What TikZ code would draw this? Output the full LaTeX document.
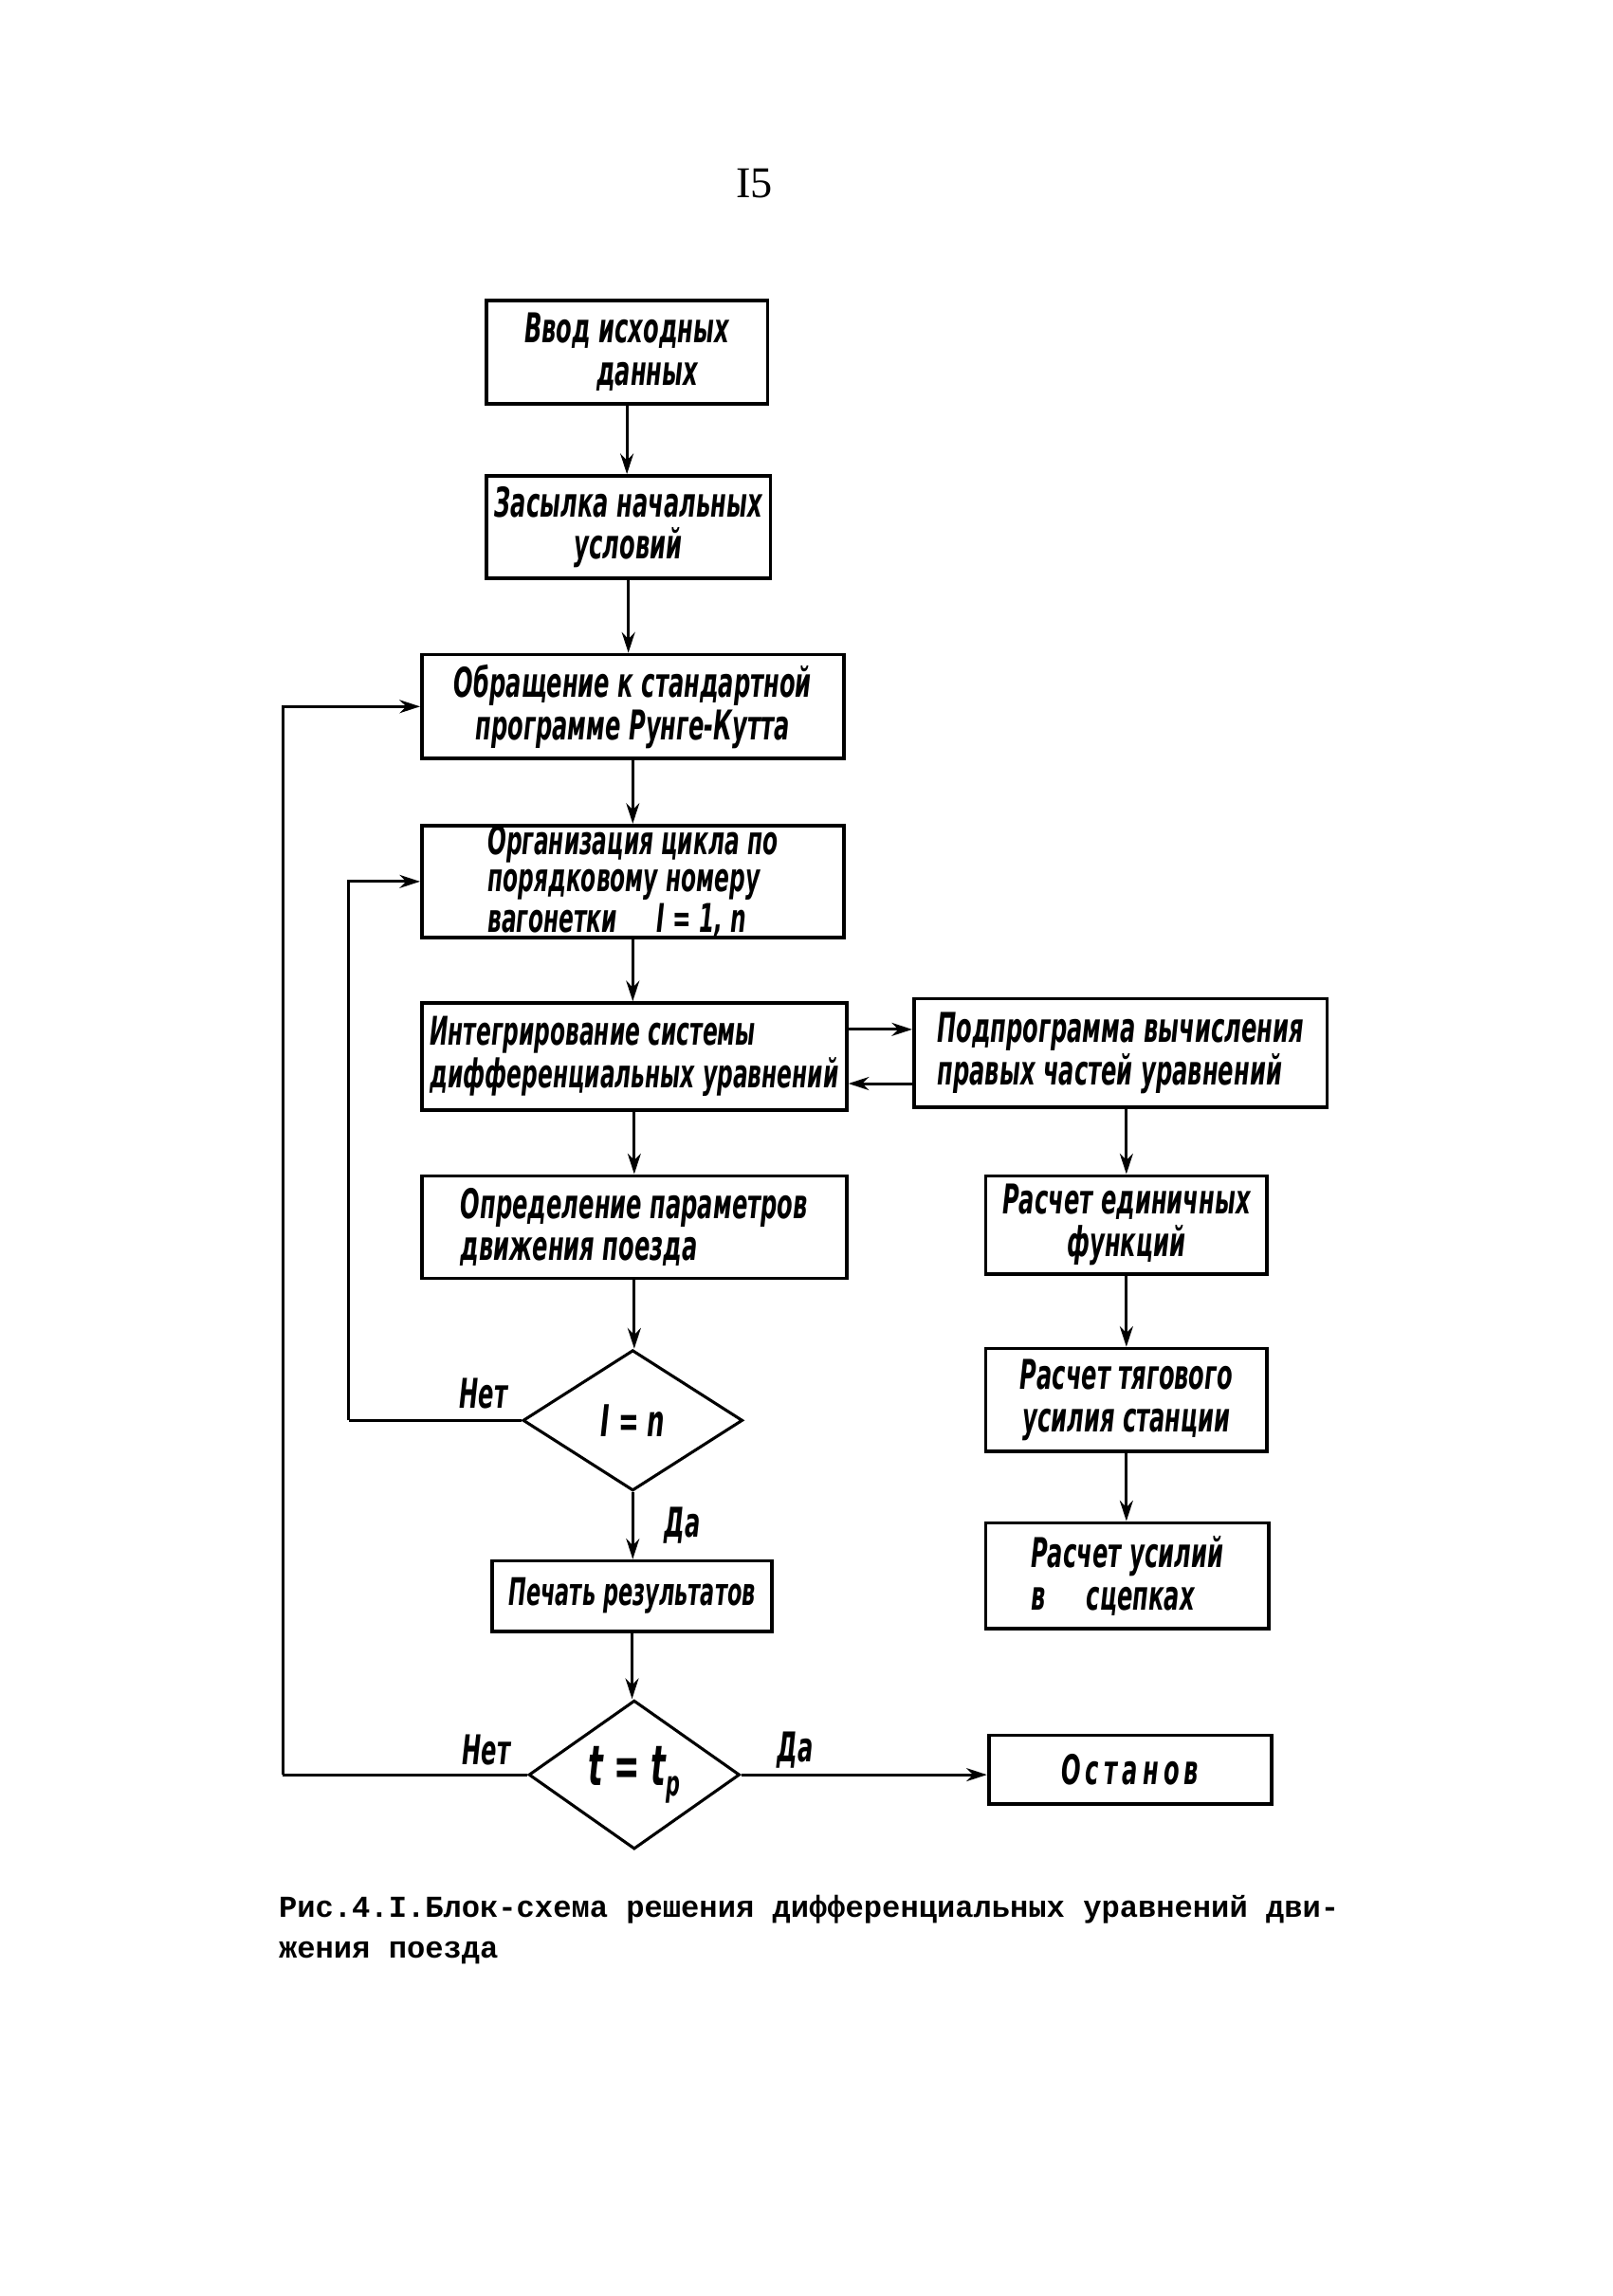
\documentclass[tikz,border=0pt]{standalone}
\usepackage{fontspec}
\setmainfont{Liberation Serif}
\newfontfamily\hand{DejaVu Sans}[FakeStretch=0.56]
\newfontfamily\tmono{Liberation Mono}
\usetikzlibrary{shapes.geometric,arrows.meta}
\tikzset{
  blk/.style={draw, line width=1.2pt, inner sep=0.5pt, align=center,
    font=\hand\bfseries\itshape\fontsize{14}{14.5}\selectfont},
  dia/.style={draw, diamond, line width=1pt, inner sep=0pt,
    font=\hand\bfseries\itshape\fontsize{15}{15}\selectfont},
  conn/.style={line width=1pt, -{Stealth[length=7pt,width=4.5pt]}},
  plain/.style={line width=1pt},
  lbl/.style={font=\hand\bfseries\itshape\fontsize{14}{14}\selectfont, inner sep=0pt},
}
\begin{document}
\begin{tikzpicture}[x=0.5pt,y=-0.5pt]
\useasboundingbox[fill=white] (0,0) rectangle (1101,1568);

\node[font=\fontsize{15}{15}\selectfont] (pn) at (515,125) {I5};

\node[blk, minimum width=96pt, minimum height=35.5pt] (b1) at (428,240.5) {Ввод исходных\\\hspace*{1em}данных};
\node[blk, minimum width=97pt, minimum height=35pt] (b2) at (429,360) {Засылка начальных\\условий};
\node[blk, minimum width=144pt, minimum height=35.5pt] (b3) at (432,482.5) {Обращение к стандартной\\программе Рунге-Кутта};
\node[blk, minimum width=144pt, minimum height=36pt, align=left, inner ysep=0pt,
      font=\hand\bfseries\itshape\fontsize{13.5}{12.6}\selectfont] (b4) at (432,602) {Организация цикла по\\порядковому номеру\\вагонетки\quad I = 1, n};
\node[blk, minimum width=145pt, minimum height=36.5pt, align=left,
      font=\hand\bfseries\itshape\fontsize{13.5}{14.5}\selectfont] (b5) at (433,721.5) {Интегрирование системы\\дифференциальных уравнений};
\node[blk, minimum width=141pt, minimum height=37pt, align=left] (b6) at (765,719) {Подпрограмма вычисления\\правых частей уравнений};
\node[blk, minimum width=145pt, minimum height=35pt, align=left] (b7) at (433,838) {Определение параметров\\движения поезда};
\node[blk, minimum width=96pt, minimum height=33.5pt] (b8) at (769,836.5) {Расчет единичных\\функций};
\node[blk, minimum width=96pt, minimum height=35pt] (b9) at (769,956) {Расчет тягового\\усилия станции};
\node[blk, minimum width=96.5pt, minimum height=36pt, align=left] (b10) at (769.5,1076) {Расчет усилий\\в\quad сцепках};
\node[blk, minimum width=95.5pt, minimum height=24pt,
      font=\hand\bfseries\itshape\fontsize{13}{13}\selectfont] (b11) at (431.5,1090) {Печать результатов};
\node[blk, minimum width=96.5pt, minimum height=23.5pt] (b12) at (771.5,1208.5) {\addfontfeature{LetterSpace=12}Останов};

\node[dia, minimum width=75pt, minimum height=48pt] (d1) at (432,970) {I = n};
\node[dia, minimum width=72pt, minimum height=50pt,
      font=\hand\bfseries\itshape\fontsize{19}{19}\selectfont] (d2) at (433,1212) {t = t\raisebox{-0.35ex}{\fontsize{12}{12}\selectfont p}};

% main chain
\draw[conn] (b1.south) -- (b1.south |- b2.north);
\draw[conn] (b2.south) -- (b2.south |- b3.north);
\draw[conn] (b3.south) -- (b3.south |- b4.north);
\draw[conn] (b4.south) -- (b4.south |- b5.north);
\draw[conn] (b5.south) -- (b5.south |- b7.north);
\draw[conn] (b7.south) -- (b7.south |- d1.north);
\draw[conn] (d1.south) -- (d1.south |- b11.north);
\draw[conn] (b11.south) -- (b11.south |- d2.north);

% exchange with subroutine
\coordinate (r1) at (600,703);
\coordinate (r2) at (600,740);
\draw[conn] (b5.east |- r1) -- (b6.west |- r1);
\draw[conn] (b6.west |- r2) -- (b5.east |- r2);

% right chain
\draw[conn] (b8.north |- b6.south) -- (b8.north);
\draw[conn] (b8.south) -- (b8.south |- b9.north);
\draw[conn] (b9.south) -- (b9.south |- b10.north);

% loops
\coordinate (l1) at (238,970);
\coordinate (l2) at (193,1212);
\draw[plain] (d1.west) -- (l1);
\draw[conn] (l1) |- (b4.west);
\draw[plain] (d2.west) -- (l2);
\draw[conn] (l2) |- (b3.west);
\draw[conn] (d2.east) -- (d2.east -| b12.west);

% labels
\node[lbl] (n1) at (330,952) {Нет};
\node[lbl] (y1) at (466,1042) {Да};
\node[lbl] (n2) at (332,1195) {Нет};
\node[lbl] (y2) at (543,1195) {Да};

% caption
\node[anchor=north west, align=left, inner sep=0pt,
      font=\tmono\bfseries\fontsize{10.4}{14}\selectfont] (cap) at (190,1294)
  {Рис.4.I.Блок-схема решения дифференциальных уравнений дви-\\жения поезда};
\end{tikzpicture}
\end{document}
